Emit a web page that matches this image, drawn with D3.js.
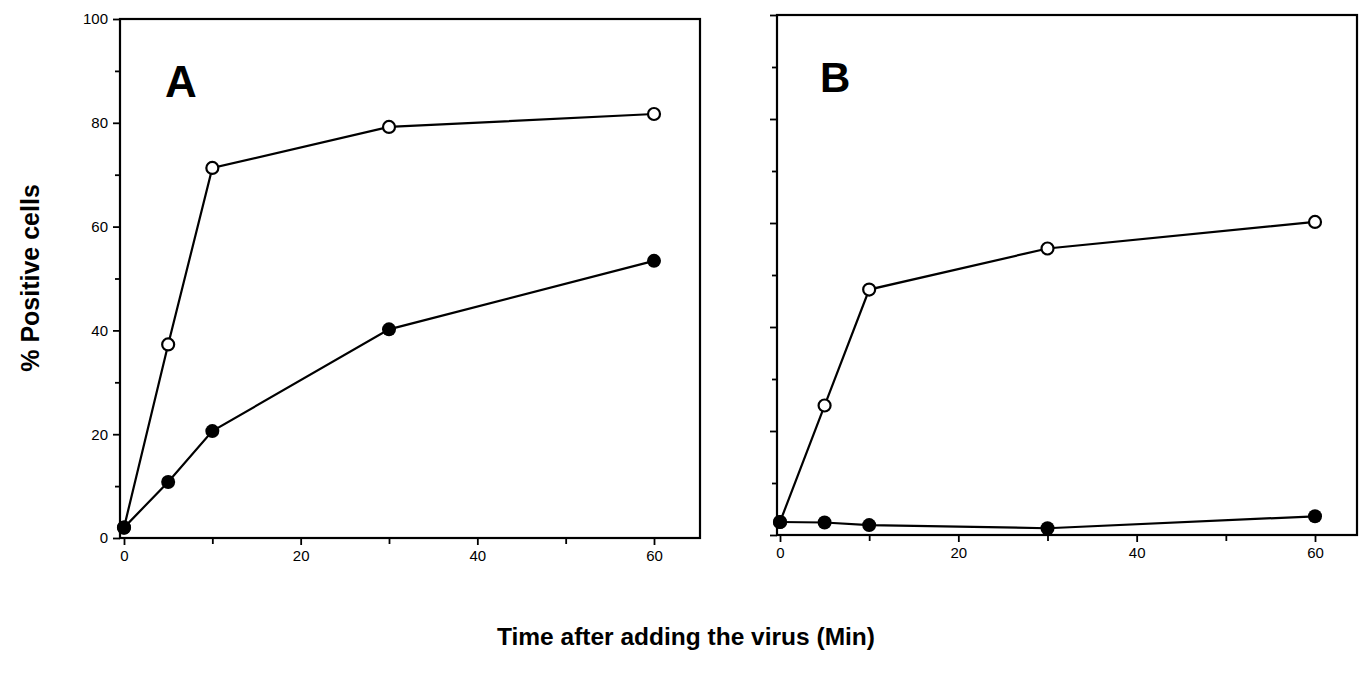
<!DOCTYPE html>
<html><head><meta charset="utf-8">
<script src="https://cdn.jsdelivr.net/npm/d3@7"></script>
<style>body{margin:0;background:#fff}svg{display:block}text{font-family:"Liberation Sans",Arial,sans-serif;fill:#000}</style>
</head><body><svg id="c" width="1370" height="678"></svg>
<script>
const times = [0, 5, 10, 30, 60];
const panelLabels = ["A", "B"];
const openA = [2, 37.3, 71.3, 79.2, 81.7];
const filledA = [2, 10.8, 20.6, 40.2, 53.4];
const openB = [2.5, 24.9, 47.2, 55.1, 60.2];
const filledB = [2.5, 2.4, 1.9, 1.3, 3.6];
const xTickLabels = [0, 20, 40, 60];
const xMinorTicks = [10, 30, 50];
const yTickLabels = [0, 20, 40, 60, 80, 100];
const yMinorTicks = [10, 30, 50, 70, 90];
const yTitle = "% Positive cells";
const xTitle = "Time after adding the virus (Min)";

const svg = d3.select("#c");
const panels = [
  {label: panelLabels[0], open: openA, filled: filledA, xr: [124, 654], box: [120, 700], yr: [538, 19], showY: true, lab: [165, 97], labSize: 44},
  {label: panelLabels[1], open: openB, filled: filledB, xr: [780, 1315], box: [777, 1357], yr: [535, 15], showY: false, lab: [820, 92], labSize: 42}
];

panels.forEach(p => {
  const x = d3.scaleLinear().domain([0, 60]).range(p.xr);
  const y = d3.scaleLinear().domain([0, 100]).range(p.yr);
  const g = svg.append("g");
  g.append("rect").attr("x", p.box[0]).attr("y", p.yr[1]).attr("width", p.box[1] - p.box[0]).attr("height", p.yr[0] - p.yr[1])
    .attr("fill", "none").attr("stroke", "#000").attr("stroke-width", 2.2);
  const xa = g.append("g").attr("transform", `translate(0,${p.yr[0]})`)
    .call(d3.axisBottom(x).tickValues(xTickLabels).tickSize(7).tickPadding(5).tickFormat(d3.format("d")));
  xa.select(".domain").remove();
  xa.selectAll("line").attr("stroke-width", 1.8);
  xa.selectAll("text").attr("font-size", 15).attr("font-family", "Liberation Sans, Arial, sans-serif");
  const xm = g.append("g").attr("transform", `translate(0,${p.yr[0]})`)
    .call(d3.axisBottom(x).tickValues(xMinorTicks).tickSize(6).tickFormat(""));
  xm.select(".domain").remove();
  xm.selectAll("line").attr("stroke-width", 1.8);
  const ya = g.append("g").attr("transform", `translate(${p.box[0]},0)`)
    .call(d3.axisLeft(y).tickValues(yTickLabels).tickSize(7).tickPadding(5).tickFormat(p.showY ? d3.format("d") : ""));
  ya.select(".domain").remove();
  ya.selectAll("line").attr("stroke-width", 1.8);
  ya.selectAll("text").attr("font-size", 15).attr("font-family", "Liberation Sans, Arial, sans-serif");
  const ym = g.append("g").attr("transform", `translate(${p.box[0]},0)`)
    .call(d3.axisLeft(y).tickValues(yMinorTicks).tickSize(5).tickFormat(""));
  ym.select(".domain").remove();
  ym.selectAll("line").attr("stroke-width", 1.8);

  const line = d3.line().x((d, i) => x(times[i])).y(d => y(d));
  [p.open, p.filled].forEach(s => {
    g.append("path").datum(s).attr("d", line).attr("fill", "none").attr("stroke", "#000").attr("stroke-width", 2.2);
  });
  g.selectAll(".o").data(p.open).join("circle").attr("cx", (d, i) => x(times[i])).attr("cy", d => y(d))
    .attr("r", 6).attr("fill", "#fff").attr("stroke", "#000").attr("stroke-width", 2.2);
  g.selectAll(".f").data(p.filled).join("circle").attr("cx", (d, i) => x(times[i])).attr("cy", d => y(d))
    .attr("r", 7).attr("fill", "#000");
  g.append("text").attr("x", p.lab[0]).attr("y", p.lab[1]).attr("font-size", p.labSize).attr("font-weight", "bold").text(p.label);
});

svg.append("text").attr("transform", "translate(39,278) rotate(-90)").attr("text-anchor", "middle")
  .attr("font-size", 25).attr("font-weight", "bold").text(yTitle);
svg.append("text").attr("x", 686).attr("y", 645).attr("text-anchor", "middle")
  .attr("font-size", 24.5).attr("font-weight", "bold").text(xTitle);
</script></body></html>
